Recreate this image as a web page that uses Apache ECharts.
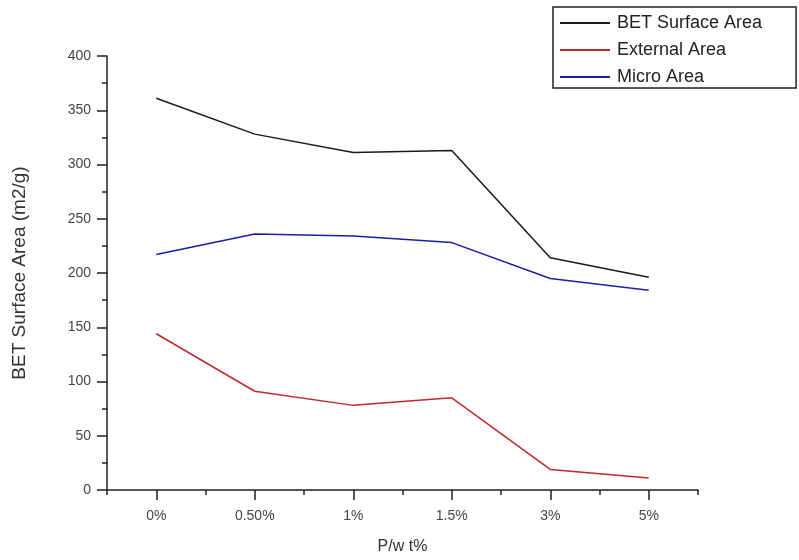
<!DOCTYPE html>
<html>
<head>
<meta charset="utf-8">
<script src="https://cdn.jsdelivr.net/npm/echarts@6/dist/echarts.min.js"></script>
<style>html,body{margin:0;padding:0;background:#fff}#c{width:799px;height:560px}</style>
</head>
<body>
<div id="c"></div>
<script>
const categories = ['0%', '0.50%', '1%', '1.5%', '3%', '5%'];
const betArea = [361, 328, 311, 313, 214, 196];
const externalArea = [144, 91, 78, 85, 19, 11];
const microArea = [217, 236, 234, 228, 195, 184];
const yTicks = [0, 400, 50];

const font = 'Liberation Sans, Arial, sans-serif';
const chart = echarts.init(document.getElementById('c'), null, {renderer: 'canvas'});
const lineSeries = (name, data, color) => ({
  name, type: 'line', data, xAxisIndex: 0, symbol: 'none',
  lineStyle: {color, width: 1.5}, itemStyle: {color}, animation: false
});
chart.setOption({
  animation: false,
  backgroundColor: '#fff',
  grid: {left: 107, right: 101, top: 56, bottom: 67},
  legend: {
    orient: 'vertical', left: 553, top: 7,
    padding: [7, 34, 2, 7],
    borderColor: '#222', borderWidth: 1.5,
    icon: 'rect',
    itemWidth: 50, itemHeight: 2, itemGap: 9,
    textStyle: {fontFamily: font, fontSize: 18, color: '#222', lineHeight: 18, padding: [0, 0, 0, 2]},
    data: ['BET Surface Area', 'External Area', 'Micro Area']
  },
  xAxis: [{
    type: 'category', data: categories, boundaryGap: true, position: 'bottom',
    name: 'P/w t%', nameLocation: 'middle', nameGap: 49,
    nameTextStyle: {fontFamily: font, fontSize: 16, color: '#333'},
    axisLine: {show: true, lineStyle: {color: '#222', width: 1.5}},
    axisTick: {show: true, alignWithLabel: true, length: 10, lineStyle: {color: '#222', width: 1.5}},
    axisLabel: {fontFamily: font, fontSize: 14, color: '#444', margin: 19},
    splitLine: {show: false}
  }, {
    type: 'category', data: categories, boundaryGap: true, position: 'bottom',
    axisLine: {show: false},
    axisTick: {show: true, alignWithLabel: false, length: 5, lineStyle: {color: '#222', width: 1.5}},
    axisLabel: {show: false},
    splitLine: {show: false}
  }],
  yAxis: {
    type: 'value', min: yTicks[0], max: yTicks[1], interval: yTicks[2],
    name: 'BET Surface Area (m2/g)', nameLocation: 'middle', nameGap: 78, nameRotate: 90,
    nameTextStyle: {fontFamily: font, fontSize: 19, color: '#333'},
    axisLine: {show: true, lineStyle: {color: '#222', width: 1.5}},
    axisTick: {show: true, length: 10, lineStyle: {color: '#222', width: 1.5}},
    minorTick: {show: true, splitNumber: 2, length: 5, lineStyle: {color: '#222', width: 1.5}},
    axisLabel: {fontFamily: font, fontSize: 14, color: '#444', margin: 16},
    splitLine: {show: false}
  },
  series: [
    lineSeries('BET Surface Area', betArea, '#1a1a1a'),
    lineSeries('External Area', externalArea, '#c0282a'),
    lineSeries('Micro Area', microArea, '#1c1ca8')
  ]
});
</script>
</body>
</html>
